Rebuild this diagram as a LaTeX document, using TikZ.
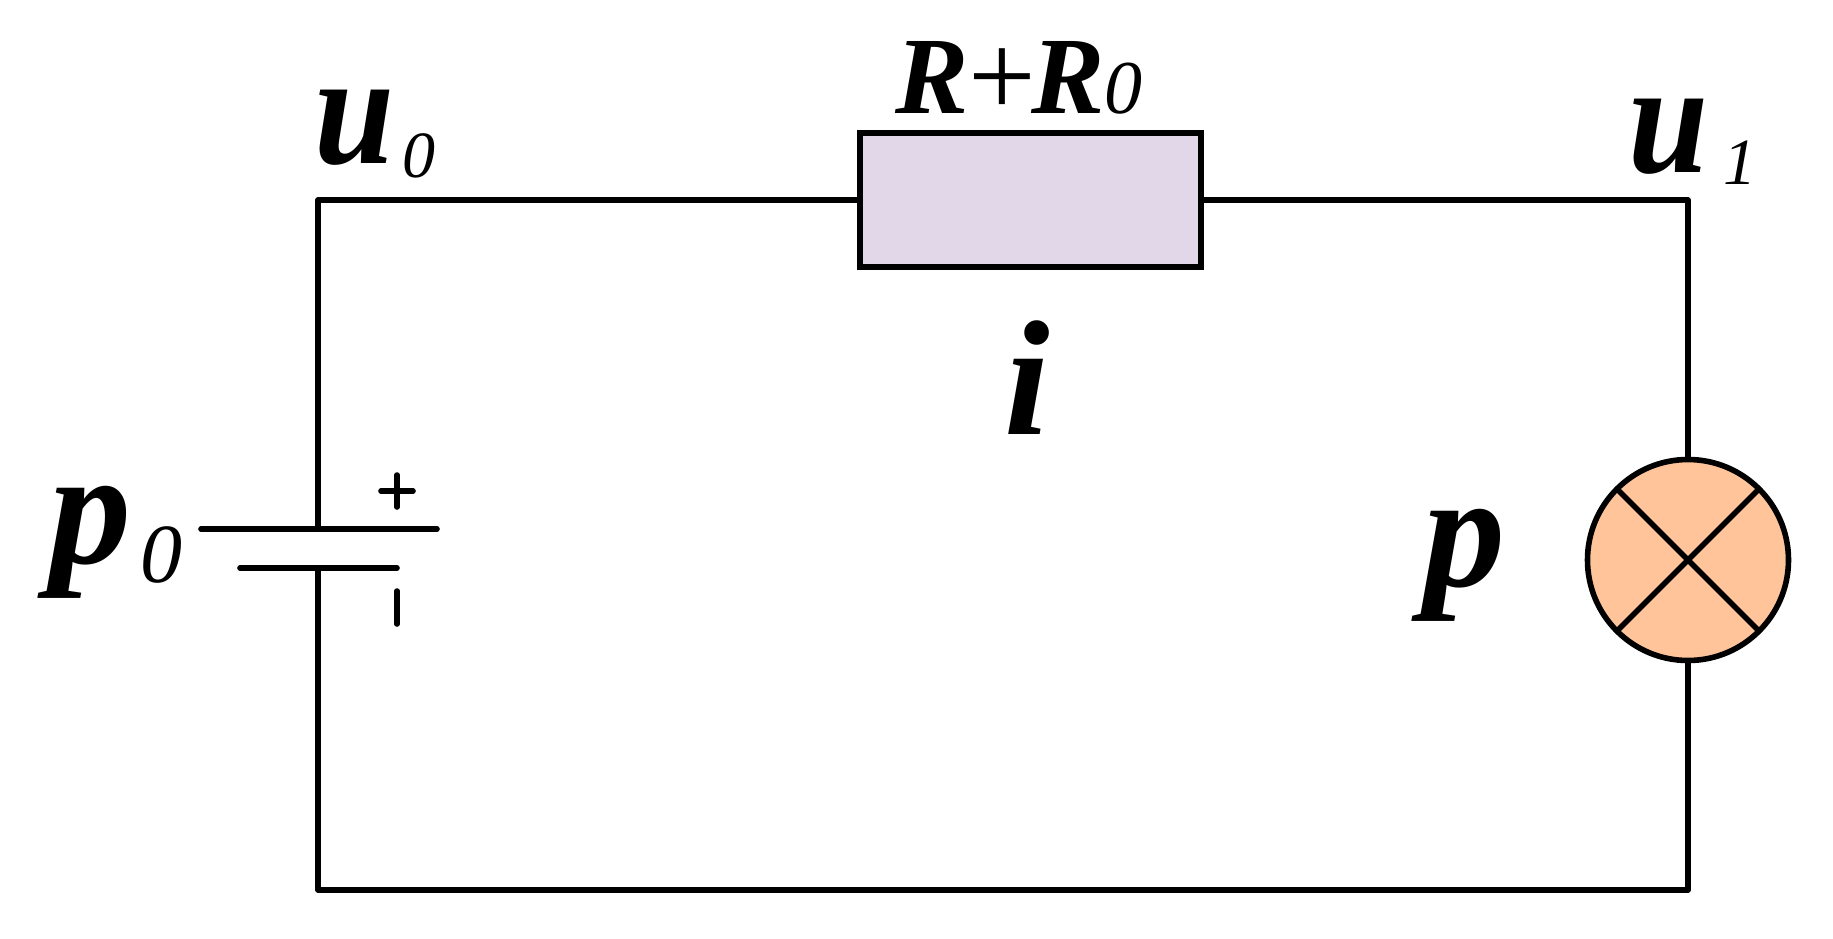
\documentclass[tikz,border=0pt]{standalone}
\usepackage{fontspec}
\setmainfont{Liberation Serif}
\usetikzlibrary{positioning}
\definecolor{resfill}{HTML}{E1D7E8}
\definecolor{lampfill}{HTML}{FFC499}
\newcommand{\bigvar}[1]{{\fontsize{82}{90}\selectfont\bfseries\itshape #1}}
\newcommand{\thinu}{\scalebox{0.9}[1]{\fontsize{80}{90}\selectfont\bfseries\itshape u}}
\newcommand{\lowidx}[3]{\raisebox{#1}{\fontsize{#2}{40}\selectfont\itshape #3}}

\begin{document}
\begin{tikzpicture}[
x=0.5pt, y=-0.5pt,
wire/.style={line width=2.8pt, line join=round},
resnode/.style={rectangle, draw, fill=resfill, line width=2.8pt, outer sep=0pt, minimum width=170.5pt, minimum height=67pt},
lampnode/.style={circle, draw, fill=lampfill, line width=2.8pt, outer sep=0pt, inner sep=0pt, minimum size=100.5pt},
varlabel/.style={inner sep=0pt, anchor=base west},
]
\useasboundingbox (0,0) rectangle (1833,938);

%Nodes
\node[resnode]  (res)  at (1030.5,200) {};
\node[lampnode] (lamp) at (1688,560)   {};
\coordinate (tl) at (318,200);
\coordinate (tr) at (1688,200);
\coordinate (bl) at (318,890);
\coordinate (br) at (1688,890);
\coordinate (batplus)  at (318,529);
\coordinate (batminus) at (318,568);
\coordinate (plusw)  at (201,529);
\coordinate (pluse)  at (437,529);
\coordinate (minusw) at (240,568);
\coordinate (minuse) at (397,568);

%Labels
\node[varlabel] (lbl-p0) at (49,563)   {\bigvar{p}\hspace{4.5pt}\lowidx{-9.5pt}{42}{0}};
\node[varlabel] (lbl-u0) at (314,163)  {\thinu\hspace{4pt}\lowidx{-7pt}{33}{0}};
\node[varlabel] (lbl-u1) at (1628,172) {\thinu\hspace{7.5pt}\lowidx{-6pt}{33}{1}};
\node[varlabel] (lbl-r)  at (895,113)  {\fontsize{55}{60}\selectfont{\bfseries\itshape R}\raisebox{-1.5pt}{\fontsize{60}{60}\selectfont +}\hspace{-2.5pt}{\bfseries\itshape R}{\fontsize{38}{40}\selectfont\itshape 0}};
\node[varlabel] (lbl-i)  at (1004,434) {\bigvar{i}};
\node[varlabel] (lbl-p)  at (1423,586) {\bigvar{p}};

%Lines
\draw[wire] (res.west) -- (tl) -- (batplus);
\draw[wire] (res.east) -- (tr) -- (lamp.north);
\draw[wire] (lamp.south) -- (br) -- (bl) -- (batminus);
\draw[wire, line cap=round] (plusw) -- (pluse);
\draw[wire, line cap=round] (minusw) -- (minuse);
\draw[wire] (lamp.north west) -- (lamp.south east);
\draw[wire] (lamp.north east) -- (lamp.south west);

%Signs
\draw[wire, line cap=round] (381,491) -- (413,491);
\draw[wire, line cap=round] (397,475) -- (397,507);
\draw[wire, line cap=round] (397,591) -- (397,624);
\end{tikzpicture}
\end{document}
